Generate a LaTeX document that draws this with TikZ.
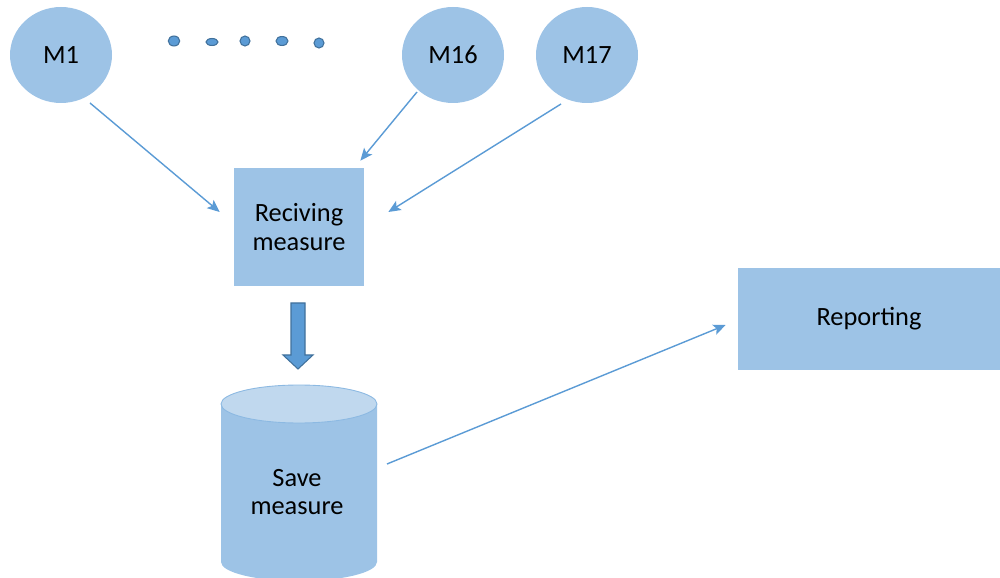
\documentclass[tikz,border=0pt]{standalone}
\usepackage{fontspec}
\setmainfont{Carlito}
\usepackage{tikz}
\usetikzlibrary{shapes.geometric,arrows,arrows.meta,positioning,calc}
\usepackage{xcolor}
\definecolor{bleuclair}{HTML}{9DC3E6}
\definecolor{bleutop}{HTML}{C0D8EE}
\definecolor{bleu}{HTML}{5B9BD5}
\definecolor{bleufonce}{HTML}{41719C}
\tikzstyle{capteur}=[ellipse, fill=bleuclair, minimum width=2.04cm, minimum height=1.92cm, inner sep=0pt, font=\fontsize{15}{16}\selectfont]
\tikzstyle{bloc}=[rectangle, fill=bleuclair, inner sep=0pt, align=center, font=\fontsize{15}{16}\selectfont]
\tikzstyle{fleche}=[-{Stealth[length=7pt,width=6pt,inset=1.5pt]}, bleu, line width=0.8pt]

\begin{document}
\begin{tikzpicture}

\useasboundingbox (0,0) rectangle (20,11.54);

% capteurs
\node[capteur] (m1) at (1.22,10.44) {M1};
\node[capteur] (m16) at (9.06,10.44) {M16};
\node[capteur] (m17) at (11.74,10.44) {M17};
\foreach \x/\y/\a/\b in {3.48/10.72/0.115/0.10, 4.24/10.70/0.12/0.07, 4.90/10.72/0.10/0.10, 5.64/10.72/0.12/0.09, 6.38/10.68/0.10/0.10}
  \draw[fill=bleu, draw=bleufonce, line width=0.6pt] (\x,\y) ellipse[x radius=\a, y radius=\b];

% reception
\node[bloc, minimum width=2.6cm, minimum height=2.36cm] (recv) at (5.98,7.00) {Reciving\\measure};
\draw[fill=bleu, draw=bleufonce, line width=0.6pt] (5.82,5.48) -- (6.10,5.48) -- (6.10,4.44) -- (6.26,4.44) -- (5.96,4.16) -- (5.66,4.44) -- (5.82,4.44) -- cycle;

% base
\fill[bleuclair] (4.42,3.46) -- (4.42,0.30) arc[start angle=180, end angle=360, x radius=1.56, y radius=0.38] -- (7.54,3.46) -- cycle;
\draw[fill=bleutop, draw=bleu!70, line width=0.5pt] (5.98,3.46) ellipse[x radius=1.56, y radius=0.38];
\node[align=center, font=\fontsize{15}{16}\selectfont] (save) at (5.94,1.70) {Save\\measure};

% rapport
\node[bloc, minimum width=5.24cm, minimum height=2.04cm] (report) at (17.38,5.16) {Reporting};

% fleches
\draw[fleche] ([shift={(0.58,-0.96)}]m1.center) -- ([shift={(-0.28,0.30)}]recv.west);
\draw[fleche] ([shift={(-0.72,-0.74)}]m16.center) -- ([shift={(-0.08,0.14)}]recv.north east);
\draw[fleche] ([shift={(-0.52,-0.98)}]m17.center) -- ([shift={(0.48,0.30)}]recv.east);
\draw[fleche] ([shift={(1.80,0.56)}]save.center) -- ([shift={(-0.24,-0.12)}]report.west);

\end{tikzpicture}
\end{document}
